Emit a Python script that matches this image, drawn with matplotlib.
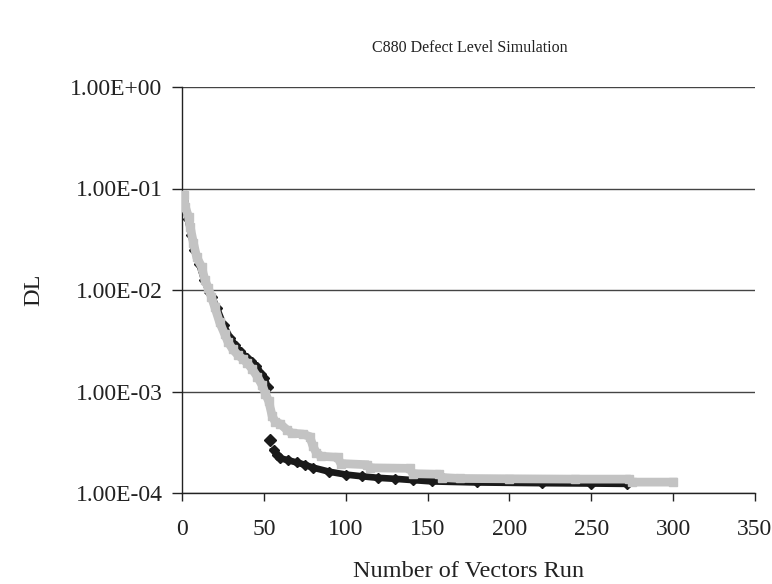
import matplotlib
matplotlib.use("Agg")
import matplotlib.pyplot as plt
from matplotlib.ticker import FixedLocator, FixedFormatter

plt.rcParams['font.family'] = ['Liberation Serif', 'DejaVu Serif']

# Series 1 (black diamonds), split where the curve jumps
black_x_upper = [1, 2, 3, 5, 7, 10, 13, 16, 19, 22, 26, 30, 33, 36, 40, 43, 46, 49, 51, 53]
black_y_upper = [0.076, 0.06, 0.05, 0.035, 0.025, 0.018, 0.0125, 0.0095, 0.0085, 0.0066,
                 0.0045, 0.0034, 0.0029, 0.0025, 0.0022, 0.002, 0.0018, 0.0015, 0.00135, 0.0011]
black_x_jump = [54]
black_y_jump = [0.00033]
black_x_lower = [56, 58, 60, 65, 70, 75, 80, 90, 100, 110, 120, 130, 141, 153, 180, 220, 250, 272]
black_y_lower = [2.65e-4, 2.35e-4, 2.2e-4, 2.1e-4, 2.0e-4, 1.9e-4, 1.78e-4, 1.62e-4, 1.52e-4,
                 1.46e-4, 1.41e-4, 1.38e-4, 1.34e-4, 1.30e-4, 1.27e-4, 1.25e-4, 1.24e-4, 1.23e-4]

# Series 2 (gray squares)
gray_x = [1, 2, 4, 5, 7, 9, 12, 14, 16, 18, 20, 23, 26, 28, 31, 34, 37, 40, 43, 46, 49, 51,
          53, 55, 57, 60, 64, 67, 74, 78, 80, 82, 85, 95, 97, 113, 115, 139, 141, 157, 159,
          170, 200, 240, 273, 275, 300]
gray_y = [0.086, 0.066, 0.0525, 0.042, 0.029, 0.021, 0.0169, 0.0125, 0.0105, 0.0085, 0.0068,
          0.0048, 0.0037, 0.0031, 0.0026, 0.0023, 0.0021, 0.0019, 0.00165, 0.0014, 0.00115,
          0.00095, 0.0008, 0.00058, 0.0005, 0.00048, 0.00042, 0.00039, 0.00038, 0.00036,
          0.00029, 0.00025, 0.00023, 0.000225, 0.000195, 0.00019, 0.000177, 0.000175,
          0.000155, 0.000153, 0.000142, 0.000139, 0.000138, 0.000137, 0.000137, 0.000128,
          0.000128]

y_ticks = [1e-4, 1e-3, 1e-2, 1e-1, 1e0]
y_tick_labels = ["1.00E-04", "1.00E-03", "1.00E-02", "1.00E-01", "1.00E+00"]
x_ticks = [0, 50, 100, 150, 200, 250, 300, 350]

fig = plt.figure(figsize=(7.72, 5.84), dpi=100)
ax = fig.add_axes([182/772, 1-493/584, (755-182)/772, (493-87)/584])

black = '#1a1a1a'
gray = '#c3c3c3'
ax.plot(black_x_upper, black_y_upper, color=black, lw=3.5, marker='D', ms=4, mec=black,
        mfc=black, solid_joinstyle='miter', zorder=3)
ax.plot(black_x_lower, black_y_lower, color=black, lw=4.8, marker='D', ms=5, mec=black,
        mfc=black, solid_joinstyle='miter', zorder=3)
ax.plot(black_x_jump, black_y_jump, ls='none', marker='D', ms=6, color=black, zorder=3)
ax.plot(gray_x, gray_y, color=gray, lw=6.3, marker='s', ms=6.3, mec=gray, mfc=gray,
        solid_joinstyle='miter', zorder=4)

ax.set_yscale('log')
ax.set_ylim(1e-4, 1e0)
ax.set_xlim(0, 350)
ax.yaxis.set_major_locator(FixedLocator(y_ticks))
ax.yaxis.set_major_formatter(FixedFormatter(y_tick_labels))
ax.yaxis.set_minor_locator(FixedLocator([]))
ax.set_xticks(x_ticks)
ax.grid(axis='y', color='#444444', lw=1.0, zorder=1)
ax.set_axisbelow(True)
for s in ['top', 'right']:
    ax.spines[s].set_visible(False)
for s in ['left', 'bottom']:
    ax.spines[s].set_color('#222222')
    ax.spines[s].set_linewidth(1.0)
ax.tick_params(axis='y', direction='out', length=7, width=1, labelsize=17, pad=7, colors='#222222')
ax.tick_params(axis='x', direction='out', length=6, width=1, labelsize=17, pad=13, colors='#222222')
for lab in ax.get_xticklabels() + ax.get_yticklabels():
    lab.set_color('#222222')

ax.set_xlabel("Number of Vectors Run", fontsize=17.5, labelpad=15, color='#222222')
ax.set_ylabel("DL", fontsize=17.5, labelpad=19, color='#222222')
fig.text(470/772, 1-48/584, "C880 Defect Level Simulation", ha='center', va='center',
         fontsize=11.5, color='#222222')

fig.savefig("out.png", dpi=100)
